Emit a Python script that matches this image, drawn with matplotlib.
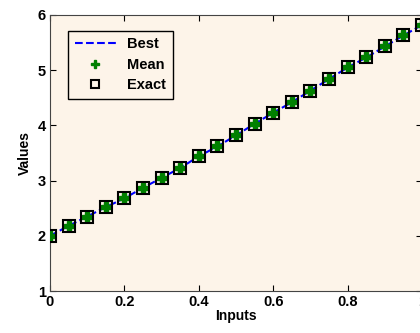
import matplotlib.pyplot as plt

# 데이터
inputs = [0.0, 0.05, 0.1, 0.15, 0.2, 0.25, 0.3, 0.35, 0.4, 0.45, 0.5,
          0.55, 0.6, 0.65, 0.7, 0.75, 0.8, 0.85, 0.9, 0.95, 1.0]
best = [2.0, 2.18, 2.35, 2.52, 2.68, 2.87, 3.05, 3.23, 3.44, 3.62, 3.82,
        4.03, 4.23, 4.42, 4.63, 4.84, 5.05, 5.23, 5.43, 5.63, 5.82]
mean = best
exact = best

plt.rcParams["font.family"] = ["Liberation Sans", "DejaVu Sans"]
plt.rcParams["font.weight"] = "bold"

fig = plt.figure(figsize=(4.2, 3.33), dpi=100)
ax = fig.add_axes([0.119, 0.126, 0.886, 0.829])
bg = "#fdf4e9"
ax.set_facecolor(bg)

ax.plot(inputs, best, "--", color="blue", lw=1.5, label="Best", zorder=2)
ax.plot(inputs, mean, "P", color="green", ms=7, ls="none", label="Mean", zorder=3)
ax.plot(inputs, exact, "s", mfc="none", mec="black", mew=1.5, ms=8,
        ls="none", label="Exact", zorder=4)

ax.set_xlim(0, 1)
ax.set_ylim(1, 6)
ax.set_xticks([0, 0.2, 0.4, 0.6, 0.8, 1])
ax.set_xticklabels(["0", "0.2", "0.4", "0.6", "0.8", "1"])
ax.set_yticks([1, 2, 3, 4, 5, 6])
ax.tick_params(direction="in", top=True, right=True, labelsize=10.5, length=4, pad=3)
for s in ax.spines.values():
    s.set_color("#444444")

ax.set_xlabel("Inputs", fontsize=10, fontweight="bold", labelpad=0)
ax.set_ylabel("Values", fontsize=10, fontweight="bold", labelpad=4)

leg = ax.legend(loc="upper left", bbox_to_anchor=(0.03, 0.97), fancybox=False,
                edgecolor="black", facecolor=bg, framealpha=1, fontsize=10.5,
                handlelength=2.8, borderpad=0.45, labelspacing=0.45,
                markerscale=0.75)
leg.get_frame().set_linewidth(1)

fig.savefig("out.png", dpi=100)
